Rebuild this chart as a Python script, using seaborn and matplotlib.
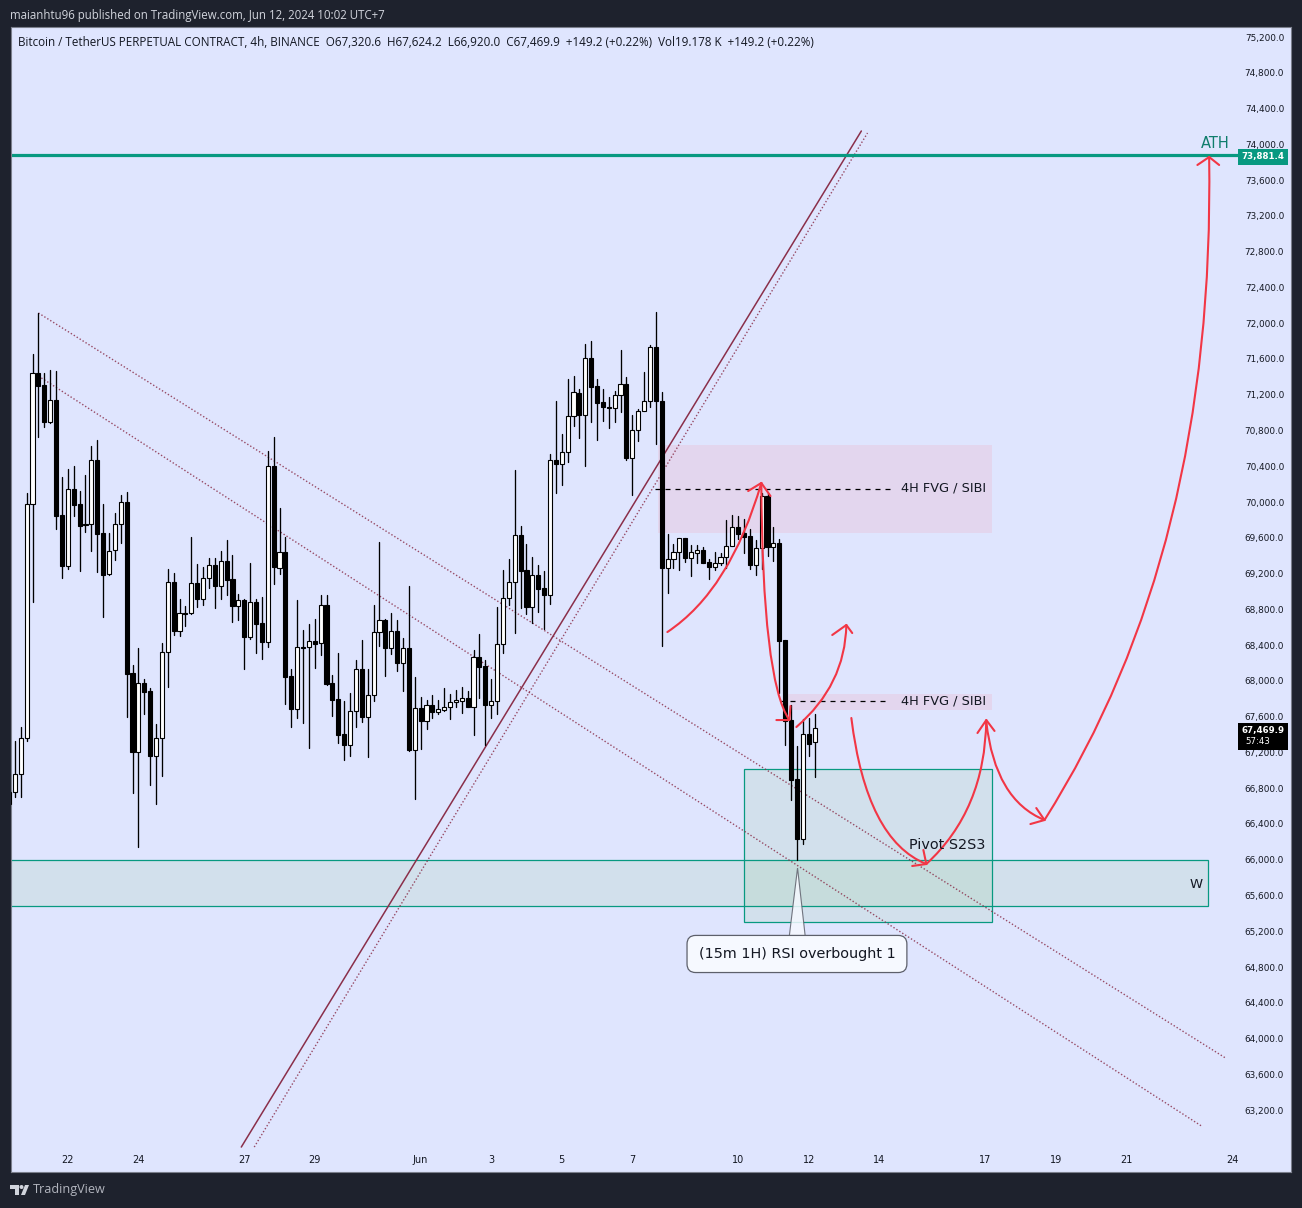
import numpy as np
import pandas as pd
import matplotlib
matplotlib.use('Agg')
import matplotlib.pyplot as plt
from matplotlib.patches import PathPatch, Polygon, Rectangle, Circle
from matplotlib.path import Path
from matplotlib.transforms import Affine2D
import seaborn as sns

# 4h candles
opens = [66623, 66757, 66959, 67361, 69977, 71443, 71309, 70895, 71141, 69854,
         69284, 70145, 69977, 69754, 69754, 70470, 69653, 69195, 69463, 69754,
         70000, 68088, 67205, 67976, 67887, 67160, 67361, 68323, 69105, 68557,
         68759, 68759, 69094, 68915, 69150, 69295, 69060, 69340, 69138, 68837,
         68904, 68490, 68882, 68647, 68434, 70402, 69262, 69441, 68054, 67685,
         68378, 68378, 68445, 68423, 68848, 67976, 67797, 67406, 67283, 67663,
         68132, 67596, 67842, 68546, 68680, 68367, 68557, 68199, 68367, 67227,
         67696, 67551, 67730, 67652, 67674, 67708, 67764, 67775, 67808, 67708,
         68267, 68166, 67730, 67775, 68412, 68926, 69105, 69630, 69239, 68826,
         69183, 69038, 68960, 70470, 70425, 70559, 70962, 71219, 70973, 71610,
         71298, 71119, 71062, 71051, 71197, 71320, 70492, 70805, 71018, 71130,
         71733, 71130, 69262, 69362, 69441, 69597, 69374, 69429, 69463, 69329,
         69273, 69318, 69385, 69508, 69720, 69653, 69619, 69295, 69485, 70067,
         69497, 69541, 68456, 67563, 66903, 66232, 67406, 67320.6]
highs = [66947, 67328, 67484, 70100, 71655, 72114, 71443, 71476, 71465, 70279,
         70369, 70402, 70123, 70302, 70626, 70693, 69977, 69653, 69877, 70078,
         70111, 68177, 68367, 68021, 67920, 67518, 68423, 69250, 69206, 68915,
         68837, 69608, 69306, 69273, 69374, 69374, 69452, 69575, 69407, 68971,
         68915, 69318, 68915, 68938, 70570, 70727, 69933, 69608, 68132, 68904,
         68568, 68636, 68691, 68960, 68960, 68065, 68311, 67775, 67864, 68233,
         68456, 68132, 68848, 69553, 68691, 68759, 68680, 68479, 69060, 68043,
         67820, 67786, 67842, 67786, 67920, 67853, 67898, 67931, 67887, 68345,
         68524, 68233, 68021, 68826, 69239, 69362, 70358, 69731, 69530, 69385,
         69295, 69228, 70537, 71130, 70760, 71376, 71409, 71264, 71767, 71800,
         71376, 71264, 71174, 71242, 71700, 71398, 70973, 71040, 71454, 71756,
         72125, 71230, 69641, 69530, 69597, 69597, 69519, 69519, 69497, 69362,
         69441, 69429, 69798, 69854, 69843, 69810, 69697, 69575, 70100, 70100,
         69720, 69586, 68456, 67730, 67272, 67574, 67585, 67624.2]
lows = [66601, 66702, 66702, 67328, 68882, 70727, 70839, 70884, 69697, 69150,
        69250, 69843, 69228, 69664, 69452, 69217, 68714, 69183, 69351, 69541,
        67596, 66746, 66143, 67629, 66836, 66623, 66936, 67931, 68513, 68501,
        68613, 68748, 68826, 68848, 69038, 68815, 68915, 68960, 68658, 68680,
        68132, 68468, 68311, 68244, 68378, 69083, 69195, 67741, 67484, 67585,
        67529, 67249, 68144, 68289, 67954, 67607, 67306, 67116, 67160, 67484,
        67540, 67149, 67775, 68390, 68054, 68300, 68110, 67887, 67216, 66679,
        67238, 67462, 67585, 67629, 67663, 67574, 67708, 67640, 67708, 67395,
        67808, 67283, 67585, 67629, 68311, 68848, 68535, 68815, 68748, 68647,
        68770, 68580, 68859, 70100, 70190, 70447, 70850, 70716, 70402, 70895,
        70693, 70906, 70828, 70895, 71007, 70470, 70078, 70682, 71018, 71062,
        70649, 68390, 68982, 69262, 69239, 69329, 69172, 69318, 69318, 69138,
        69239, 69295, 69262, 69508, 69586, 69429, 69250, 69183, 69250, 69396,
        69340, 67864, 67283, 66668, 65997, 66176, 67160, 66920.0]
closes = [66757, 66959, 67361, 69977, 71443, 71298, 70895, 71141, 69843, 69284,
          70145, 69966, 69731, 69742, 70470, 69641, 69183, 69452, 69754, 70000,
          68077, 67205, 67976, 67875, 67160, 67361, 68323, 69105, 68557, 68759,
          68748, 69094, 68915, 69150, 69295, 69060, 69340, 69127, 68837, 68904,
          68490, 68882, 68636, 68434, 70402, 69273, 69441, 68043, 67685, 68378,
          68367, 68445, 68412, 68848, 67965, 67786, 67395, 67283, 67663, 68132,
          67596, 67842, 68546, 68680, 68367, 68557, 68199, 68367, 67227, 67696,
          67551, 67730, 67652, 67685, 67708, 67764, 67786, 67808, 67708, 68267,
          68155, 67730, 67775, 68412, 68926, 69105, 69630, 69228, 68826, 69183,
          69026, 68960, 70470, 70425, 70559, 70962, 71230, 70973, 71610, 71286,
          71107, 71062, 71051, 71197, 71320, 70492, 70805, 71018, 71130, 71733,
          71130, 69262, 69362, 69441, 69597, 69374, 69441, 69463, 69318, 69273,
          69318, 69385, 69508, 69720, 69641, 69608, 69295, 69485, 70067, 69497,
          69541, 68445, 67551, 66892, 66232, 67406, 67294, 67469.9]

price_ticks = list(range(63200, 75600, 400))
day_ticks = [10, 22, 40, 52, 70, 82, 94, 106, 124, 136, 148, 166, 178, 190, 208]
day_labels = ['22', '24', '27', '29', 'Jun', '3', '5', '7', '10', '12', '14', '17', '19', '21', '24']

ath_price = 73881.4
last_price = 67469.9

# drawings, (bar, price)
trend_solid = [(39.5, 62787), (144.95, 74149)]
trend_dotted = [[(41.7, 62787), (146.0, 74127)],
                [(5.0, 72114), (206.9, 63782)],
                [(5.0, 71409), (202.8, 63022)]]
pink_zones = [(110.4, 167.1, 69653, 70638), (131.9, 167.1, 67674, 67853)]
green_zones = [(125.05, 167.1, 65303, 67014), (-2, 203.96, 65482, 65997)]
fvg_lines = [(109.9, 149.9, 70145), (131.2, 149.9, 67775)]

# start, control, end and the two arrow barbs
curves = [((111.96, 68546), (122.67, 69016), (127.94, 70213), (125.7, 70123), (129.5, 70067)),
          ((127.94, 70213), (128.11, 68010), (132.7, 67562), (130.5, 67562), (132.9, 67719)),
          ((133.9, 67484), (142.2, 67954), (142.4, 68625), (140.0, 68513), (143.4, 68535)),
          ((143.25, 67585), (145.8, 66220), (156.0, 65952), (153.6, 65930), (155.5, 66109)),
          ((156.0, 65952), (166.0, 66556), (166.2, 67562), (164.7, 67417), (167.6, 67440)),
          ((166.2, 67540), (167.7, 66668), (176.1, 66444), (173.7, 66399), (174.7, 66578)),
          ((176.1, 66444), (205.2, 69463), (204.1, 73858), (202.1, 73769), (205.8, 73769))]
callout_wedge = [(134.1, 65907), (132.7, 65147), (135.4, 65147)]

df = pd.DataFrame({'bar': np.arange(len(opens)), 'open': opens, 'high': highs,
                   'low': lows, 'close': closes})
wicks = pd.concat([df[['bar', 'high']].rename(columns={'high': 'price'}),
                   df[['bar', 'low']].rename(columns={'low': 'price'})])

sns.set_theme(style='white', rc={'font.family': 'DejaVu Sans'})
bg_dark = '#1e222d'
panel = '#dfe5fe'
teal = '#089981'
red = '#f23645'
maroon = '#8a2f4a'

fig = plt.figure(figsize=(13.02, 12.08), dpi=100, facecolor=bg_dark)
ax = fig.add_axes([10.5 / 1302, 1 - 1172 / 1208, 1280.5 / 1302, 1145 / 1208], facecolor=panel)
px = Affine2D().scale(1, -1).translate(0, 1208)

for x0, x1, y0, y1 in pink_zones:
    ax.add_patch(Rectangle((x0, y0), x1 - x0, y1 - y0, facecolor='#e3d6ee', edgecolor='none', zorder=1))
for x0, x1, y0, y1 in green_zones:
    ax.add_patch(Rectangle((x0, y0), x1 - x0, y1 - y0, facecolor='#88ca86', alpha=0.15, edgecolor='none', zorder=1))
    ax.add_patch(Rectangle((x0, y0), x1 - x0, y1 - y0, fill=False, edgecolor=teal, lw=0.9, zorder=2))

ax.plot(*zip(*trend_solid), color=maroon, lw=1.1, zorder=2)
for line in trend_dotted:
    ax.plot(*zip(*line), color=maroon, lw=1.0, ls=(0, (1, 1.5)), alpha=0.85, zorder=2)
ax.hlines(ath_price, -2, 209.1, color=teal, lw=2.3, zorder=2)
for x0, x1, y in fvg_lines:
    ax.plot([x0, x1], [y, y], color='black', lw=0.9, ls=(0, (4, 4)), zorder=2.5)

sns.lineplot(data=wicks, x='bar', y='price', units='bar', estimator=None,
             color='black', lw=0.95, legend=False, ax=ax, zorder=3)
up = df[df['close'] >= df['open']]
down = df[df['close'] < df['open']]
ax.bar(up['bar'], up['close'] - up['open'], bottom=up['open'], width=0.7,
       facecolor='white', edgecolor='black', lw=0.8, zorder=4)
ax.bar(down['bar'], down['close'] - down['open'], bottom=down['open'], width=0.7,
       facecolor='black', edgecolor='black', lw=0.8, zorder=4)

for start, ctrl, end, barb1, barb2 in curves:
    ax.add_patch(PathPatch(Path([start, ctrl, end], [Path.MOVETO, Path.CURVE3, Path.CURVE3]),
                           fill=False, edgecolor=red, lw=1.5, capstyle='round', zorder=6))
    ax.plot(*zip(barb1, end, barb2), color=red, lw=1.5, solid_capstyle='round', zorder=6)

ax.add_patch(Polygon(callout_wedge, closed=True, facecolor='#f6f9ff', alpha=0.85,
                     edgecolor='#5d606b', lw=0.8, zorder=7))
ax.text(134.0, 64946, '(15m 1H) RSI overbought 1', ha='center', va='center', fontsize=10.4,
        color='#131722', zorder=8,
        bbox=dict(boxstyle='round,pad=0.8,rounding_size=0.6', facecolor='#f6f9ff',
                  edgecolor='#5d606b', lw=0.9))

ax.set_xlim(0.25, 218.02)
ax.set_ylim(62508, 75312)
ax.set_xlabel('')
ax.set_ylabel('')
ax.yaxis.tick_right()
ax.set_yticks(price_ticks)
ax.set_yticklabels([f'{p:,.1f}' for p in price_ticks], ha='right', fontsize=6.4, color='#131722')
ax.set_xticks(day_ticks)
ax.set_xticklabels(day_labels, fontsize=7, color='#131722')
ax.tick_params(axis='y', length=0, pad=-5)
ax.tick_params(axis='x', length=0, pad=-12)
ax.grid(False)
for spine in ax.spines.values():
    spine.set_color('#7b7f8c')
    spine.set_linewidth(0.8)

for label, price in zip(['4H FVG / SIBI', '4H FVG / SIBI'], [70157, 67775]):
    ax.text(159.0, price, label, ha='center', va='center', fontsize=9.3, color='#131722', zorder=8)
ax.text(159.6, 66170, 'Pivot S2S3', ha='center', va='center', fontsize=10.4, color='#131722', zorder=8)
ax.text(201.9, 65727, 'W', ha='center', va='center', fontsize=9.5, color='#131722', zorder=8)
ax.text(205.2, 74010, 'ATH', ha='center', va='center', fontsize=10.5, color='#0f7d6c', zorder=8)

# price scale badges
for x0, y0, h, color in [(1238, 149, 16, teal), (1238, 723, 27, 'black')]:
    fig.add_artist(Rectangle((x0, y0), 50, h, transform=px, facecolor=color, edgecolor='none', zorder=9))
fig.text(1284, 157, '73,881.4', transform=px, ha='right', va='center', fontsize=6.2,
         fontweight='bold', color='white', zorder=10)
fig.text(1284, 730, f'{last_price:,.1f}', transform=px, ha='right', va='center', fontsize=6.2,
         fontweight='bold', color='white', zorder=10)
fig.text(1245, 742, '57:43', transform=px, ha='left', va='center', fontsize=6.2, color='white', zorder=10)

fig.text(10, 15, 'maianhtu96 published on TradingView.com, Jun 12, 2024 10:02 UTC+7', transform=px,
         ha='left', va='center', fontsize=8.3, family='Open Sans', color='#d1d4dc')
ax.text(18, 42, 'Bitcoin / TetherUS PERPETUAL CONTRACT, 4h, BINANCE  O67,320.6  H67,624.2  L66,920.0  '
        'C67,469.9  +149.2 (+0.22%)  Vol19.178 K  +149.2 (+0.22%)', transform=px,
        ha='left', va='center', fontsize=8.38, family='Open Sans', color='#131722', zorder=8)

# TradingView logo
logo = '#d1d4dc'
fig.add_artist(Polygon([(10, 1185), (19, 1185), (19, 1195), (15, 1195), (15, 1189), (10, 1189)],
                       closed=True, transform=px, facecolor=logo, edgecolor='none'))
fig.add_artist(Circle((21.5, 1187), 2, transform=px, facecolor=logo, edgecolor='none'))
fig.add_artist(Polygon([(25, 1185), (29, 1185), (25, 1195), (21, 1195)],
                       closed=True, transform=px, facecolor=logo, edgecolor='none'))
fig.text(33, 1190, 'TradingView', transform=px, ha='left', va='center', fontsize=9.1,
         family='Open Sans', color='#b2b5be')

fig.savefig('out.png', dpi=100, facecolor=bg_dark)
